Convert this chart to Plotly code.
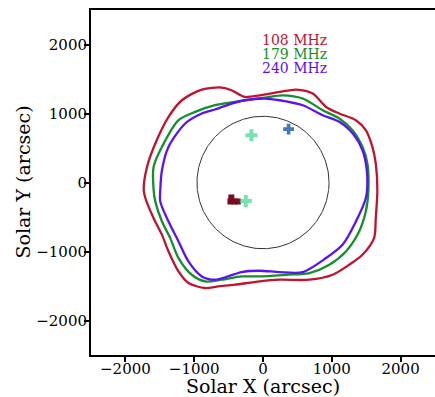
import numpy as np
import plotly.graph_objects as go

# Contour outlines (arcsec)
red_x = [-1734, -1685, -1565, -1373, -1179, -890, -601, -457, -264, -48, 241, 483, 723, 916, 1108, 1350, 1494, 1590, 1639, 1662,
         1639, 1614, 1445, 1253, 1012, 675, 241, -48, -409, -650, -842, -1084, -1228, -1373, -1468, -1590, -1709, -1734]
red_y = [-108, 228, 566, 951, 1192, 1347, 1376, 1337, 1240, 1264, 1312, 1347, 1289, 1095, 1000, 903, 759, 517, 277, -108,
         -517, -806, -1048, -1192, -1337, -1409, -1409, -1433, -1481, -1506, -1529, -1457, -1289, -1000, -759, -517, -228, -108]

green_x = [-1590, -1590, -1468, -1228, -987, -698, -409, 25, 289, 578, 867, 1108, 1301, 1445, 1517, 1532,
           1494, 1397, 1205, 964, 675, 338, -48, -312, -601, -842, -1035, -1228, -1348, -1468, -1565, -1590]
green_y = [-108, 228, 517, 903, 1023, 1120, 1168, 1231, 1264, 1217, 1048, 928, 759, 517, 277, -108,
           -422, -711, -1000, -1192, -1312, -1337, -1361, -1361, -1409, -1433, -1337, -1095, -806, -566, -277, -108]

blue_x = [-1493, -1468, -1373, -1131, -890, -698, -457, -264, 25, 241, 578, 867, 1108, 1325, 1445, 1503, 1517,
          1494, 1350, 1156, 916, 578, 241, -48, -312, -506, -698, -890, -1084, -1228, -1373, -1493, -1493]
blue_y = [-108, 181, 517, 855, 1000, 1058, 1144, 1192, 1217, 1192, 1120, 975, 879, 686, 470, 228, -36,
          -228, -566, -903, -1095, -1298, -1298, -1279, -1298, -1361, -1409, -1361, -1144, -855, -566, -277, -108]

labels = ["108 MHz", "179 MHz", "240 MHz"]
colors = ["#c0142e", "#12902a", "#5a12f5"]

# Burst source centroids (arcsec)
red_src_x = [-474, -416, -366, -460]
red_src_y = [-275, -275, -275, -217]
green_src_x = [-250, -168]
green_src_y = [-267, 686]
blue_src_x = [372]
blue_src_y = [773]

R_SUN = 960

fig = go.Figure()

th = np.linspace(0, 2 * np.pi, 361)
fig.add_trace(go.Scatter(x=R_SUN * np.cos(th), y=R_SUN * np.sin(th), mode="lines",
                         line=dict(color="#333333", width=1), hoverinfo="skip"))

for xs, ys, c in [(red_x, red_y, colors[0]), (green_x, green_y, colors[1]), (blue_x, blue_y, colors[2])]:
    fig.add_trace(go.Scatter(x=xs, y=ys, mode="lines", line=dict(color=c, width=2.3, shape="spline", smoothing=0.8)))

fig.add_trace(go.Scatter(x=red_src_x, y=red_src_y, mode="markers",
                         marker=dict(symbol="square", size=6, color="#7d0a1e", line=dict(width=0))))
fig.add_trace(go.Scatter(x=green_src_x, y=green_src_y, mode="markers",
                         marker=dict(symbol="cross", size=10, color="#3cd68a", opacity=0.7, line=dict(width=0))))
fig.add_trace(go.Scatter(x=blue_src_x, y=blue_src_y, mode="markers",
                         marker=dict(symbol="cross", size=9, color="#2b6cb0", opacity=0.9, line=dict(width=0))))

label_y = [2059, 1864, 1662]
for t, c, yv in zip(labels, colors, label_y):
    fig.add_annotation(x=458, y=yv, text=t, showarrow=False, xanchor="center", yanchor="middle",
                       font=dict(family="DejaVu Serif", size=14, color=c))

fig.add_annotation(x=0.5, y=0, xref="paper", yref="paper", text="Solar X (arcsec)", showarrow=False,
                   xanchor="center", yanchor="middle", yshift=-31,
                   font=dict(family="DejaVu Serif", size=19, color="black"))
fig.add_annotation(x=0, y=0.5, xref="paper", yref="paper", text="Solar Y (arcsec)", showarrow=False,
                   textangle=-90, xanchor="center", yanchor="middle", xshift=-69,
                   font=dict(family="DejaVu Serif", size=19, color="black"))

axis_common = dict(range=[-2500, 2500], showgrid=False, zeroline=False, showline=True, linecolor="black",
                   linewidth=2, mirror=True, ticks="outside", ticklen=5, tickwidth=2, tickcolor="black",
                   automargin=False,
                   tickvals=[-2000, -1000, 0, 1000, 2000], ticktext=["\u22122000", "\u22121000", "0", "1000", "2000"],
                   tickfont=dict(family="DejaVu Serif", size=15, color="black"))

fig.update_layout(
    width=435, height=397,
    margin=dict(l=91, r=0, t=10, b=42),
    paper_bgcolor="white", plot_bgcolor="white",
    showlegend=False,
    xaxis=dict(**axis_common, ticklabelstandoff=-6),
    yaxis=dict(**axis_common, ticklabelstandoff=-6),
)

fig.write_html("out.html", config={"displayModeBar": False},
               post_script="document.body.style.margin='0';document.body.style.overflow='hidden';")
